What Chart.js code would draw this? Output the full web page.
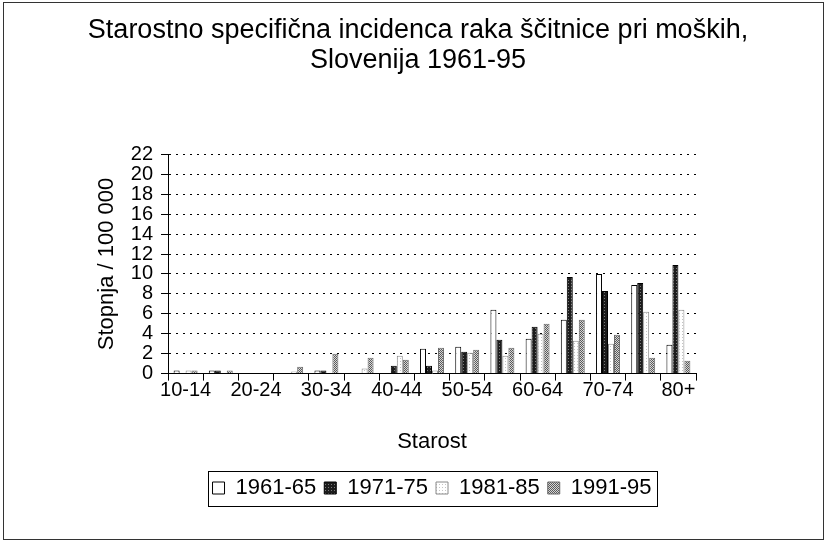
<!DOCTYPE html>
<html>
<head>
<meta charset="utf-8">
<title>Incidenca raka ščitnice</title>
<script src="https://cdn.jsdelivr.net/npm/chart.js@4.4.0/dist/chart.umd.min.js"></script>
<style>
    html, body { margin: 0; padding: 0; background: #fff; }
</style>
</head>
<body>
<canvas id="incidenca" width="826" height="542"></canvas>
<script>
// starostne skupine (vsaka druga je izpisana na osi)
var starost = ['10-14', '15-19', '20-24', '25-29', '30-34', '35-39', '40-44', '45-49',
               '50-54', '55-59', '60-64', '65-69', '70-74', '75-79', '80+'];

// stopnja / 100 000
var obd1961 = [0.3, 0.3, 0, 0,   0.3, 0,   0,   2.5, 2.7, 6.4, 3.5, 5.4, 10.0, 8.9, 2.9];
var obd1971 = [0,   0.3, 0, 0,   0.3, 0,   0.8, 0.8, 2.2, 3.4, 4.7, 9.7, 8.3,  9.1, 10.9];
var obd1981 = [0.3, 0,   0, 0.2, 0,   0.5, 1.8, 0.3, 2.1, 1.8, 4.0, 3.3, 3.0,  6.2, 6.4];
var obd1991 = [0.3, 0.3, 0, 0.7, 2.0, 1.6, 1.4, 2.6, 2.4, 2.6, 5.0, 5.4, 3.9,  1.6, 1.3];

var yTicks = [0, 2, 4, 6, 8, 10, 12, 14, 16, 18, 20, 22];

// small dotted fills, like the printed raster
function raster(bg, fg, size, dots) {
    var c = document.createElement('canvas');
    c.width = size;
    c.height = size;
    var g = c.getContext('2d');
    g.fillStyle = bg;
    g.fillRect(0, 0, size, size);
    g.fillStyle = fg;
    dots.forEach(function (d) { g.fillRect(d[0], d[1], 1, 1); });
    return g.createPattern(c, 'repeat');
}

var fillDark  = raster('#1c1c1c', '#7a7a7a', 3, [[1, 1]]);
var fillLight = raster('#ffffff', '#c4c4c4', 3, [[1, 1]]);
var fillGrey  = raster('#d6d6d6', '#5a5a5a', 2, [[0, 0], [1, 1]]);

var okvir = {
    id: 'okvir',
    afterDraw: function (chart) {
        var ctx = chart.ctx;
        ctx.save();
        ctx.strokeStyle = '#333';
        ctx.lineWidth = 1;
        ctx.strokeRect(3.5, 2.5, 820, 537);

        // box round the legend
        var boxes = chart.legend.legendHitBoxes;
        if (boxes && boxes.length) {
            var l = Math.min.apply(null, boxes.map(function (b) { return b.left; }));
            var r = Math.max.apply(null, boxes.map(function (b) { return b.left + b.width; }));
            var t = Math.min.apply(null, boxes.map(function (b) { return b.top; }));
            var bt = Math.max.apply(null, boxes.map(function (b) { return b.top + b.height; }));
            ctx.strokeStyle = '#000';
            ctx.strokeRect(Math.round(l - 5) + 0.5, Math.round(t - 6) + 0.5,
                           Math.round(r - l + 10), Math.round(bt - t + 13));
        }
        ctx.restore();
    }
};

Chart.defaults.font.family = '"Liberation Sans", Arial, sans-serif';
Chart.defaults.color = '#000';

var chart = new Chart(document.getElementById('incidenca'), {
    type: 'bar',
    data: {
        labels: starost,
        datasets: [
            { label: '1961-65', data: obd1961, backgroundColor: '#ffffff', borderColor: '#000', borderWidth: 1 },
            { label: '1971-75', data: obd1971, backgroundColor: fillDark, borderColor: '#000', borderWidth: 1 },
            { label: '1981-85', data: obd1981, backgroundColor: fillLight, borderColor: '#8a8a8a', borderWidth: 1 },
            { label: '1991-95', data: obd1991, backgroundColor: fillGrey, borderColor: '#6a6a6a', borderWidth: 1 }
        ]
    },
    options: {
        responsive: false,
        animation: false,
        devicePixelRatio: 1,
        categoryPercentage: 0.68,
        barPercentage: 1.0,
        layout: { padding: { left: 20, right: 10, top: 0, bottom: 33 } },
        plugins: {
            title: {
                display: true,
                text: ['Starostno specifična incidenca raka ščitnice pri moških,', 'Slovenija 1961-95'],
                font: { size: 27, weight: 'normal', lineHeight: 1.1 },
                color: '#000',
                padding: { top: 16, bottom: 79 }
            },
            legend: {
                position: 'bottom',
                fullSize: false,
                labels: {
                    boxWidth: 12,
                    boxHeight: 12,
                    padding: 8,
                    font: { size: 22 },
                    color: '#000'
                }
            },
            tooltip: { enabled: false }
        },
        scales: {
            x: {
                grid: {
                    display: true,
                    drawOnChartArea: false,
                    drawTicks: true,
                    tickLength: 7,
                    color: '#000',
                    offset: true
                },
                border: { display: true, color: '#000', width: 1 },
                ticks: {
                    autoSkip: false,
                    maxRotation: 0,
                    padding: 0,
                    font: { size: 20, lineHeight: 1 },
                    callback: function (value, index) {
                        return index % 2 === 0 ? starost[index] : '';
                    }
                },
                title: {
                    display: true,
                    text: 'Starost',
                    font: { size: 22 },
                    padding: { top: 28, bottom: 14 }
                }
            },
            y: {
                min: 0,
                max: 22,
                afterFit: function (s) { s.width = 148; },
                afterBuildTicks: function (s) {
                    s.ticks = yTicks.map(function (v) { return { value: v }; });
                },
                grid: {
                    color: '#000',
                    lineWidth: 1,
                    tickLength: 7,
                    tickColor: '#000',
                    tickBorderDash: []
                },
                border: { display: true, color: '#000', width: 1, dash: [2, 5] },
                ticks: {
                    autoSkip: false,
                    padding: 8,
                    font: { size: 20, lineHeight: 1 }
                },
                title: {
                    display: true,
                    text: 'Stopnja / 100 000',
                    font: { size: 22 },
                    padding: { top: 74, bottom: 0 }
                }
            },
            desno: {
                type: 'linear',
                position: 'right',
                display: true,
                afterFit: function (s) { s.width = 120; },
                grid: { display: false },
                border: { display: false },
                ticks: { display: false }
            }
        }
    },
    plugins: [okvir]
});
</script>
</body>
</html>
